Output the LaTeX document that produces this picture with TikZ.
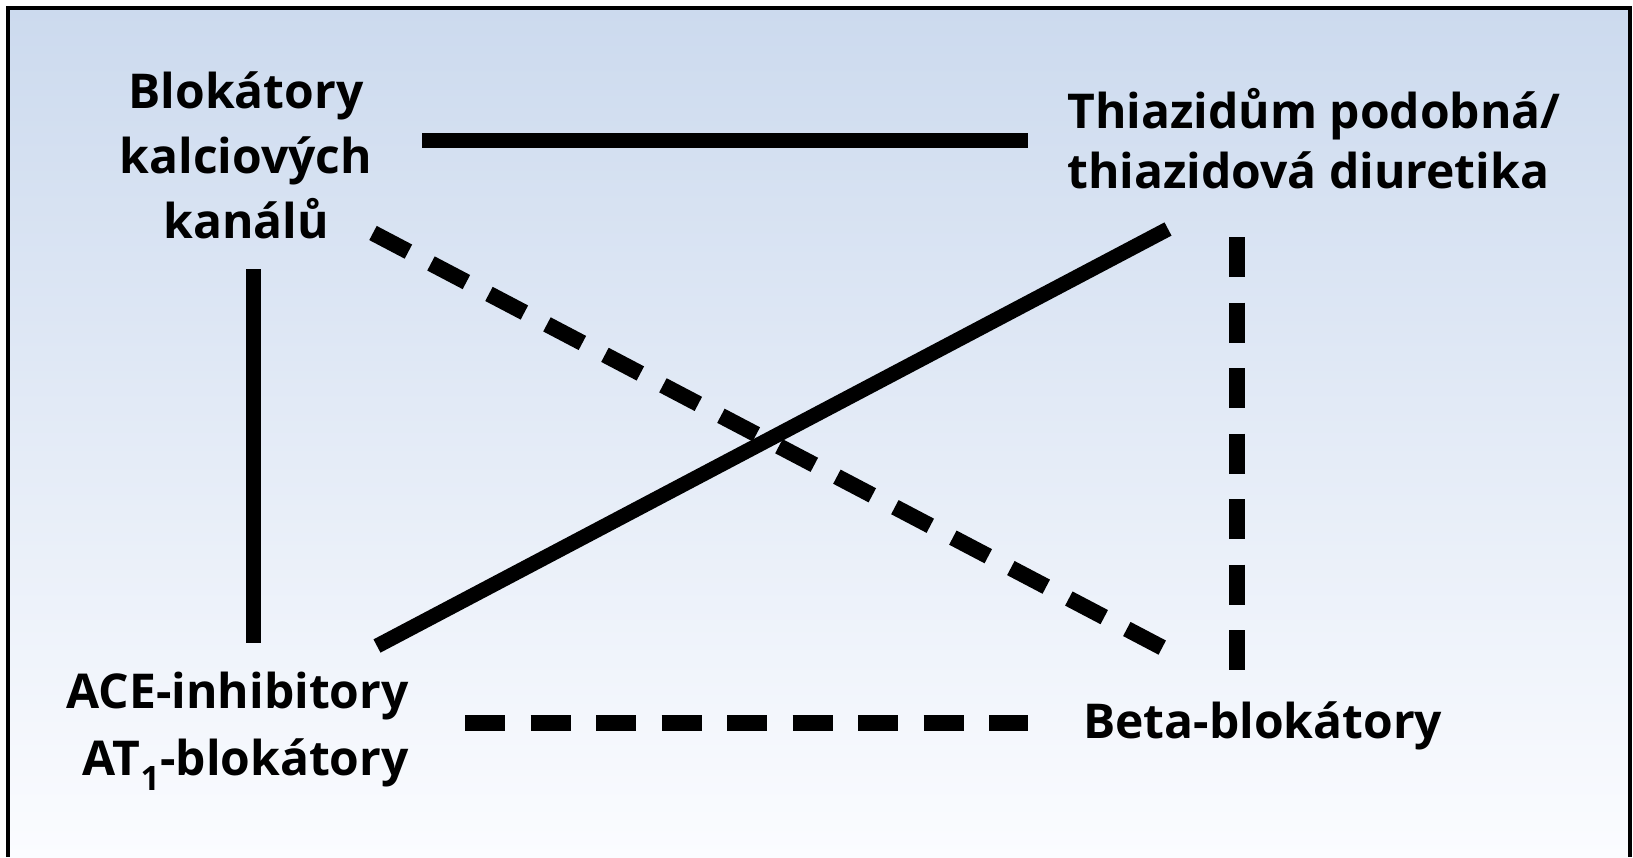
\documentclass[tikz,border=0pt]{standalone}
\usepackage{fontspec}
\setmainfont{Open Sans}
\definecolor{bgtop}{RGB}{204,218,238}
\definecolor{bgbot}{RGB}{251,252,255}
\tikzset{
  lbl/.style={inner sep=0pt, text=black, font=\bfseries\fontsize{48}{#1}\selectfont},
  solidlink/.style={line width=15pt, line cap=butt},
  dashlink/.style={line width=16pt, line cap=butt, dash pattern=on 40pt off 25.5pt},
}
\begin{document}
\begin{tikzpicture}[x=1pt,y=-1pt]
\useasboundingbox (0,0) rectangle (1633,857);
% background and frame
\shade[top color=bgtop, bottom color=bgbot] (8,8) rectangle (1630,857);
\draw[line width=4pt] (8,857) -- (8,8) -- (1630,8) -- (1630,857);
% concept nodes (base anchor = baseline of last line)
\node[lbl=65, align=center, anchor=base] (ccb) at (246,238) {Blokátory\\kalciových\\kanálů};
\node[lbl=60, align=left, anchor=base west] (thz) at (1067,188) {Thiazidům podobná/\\thiazidová diuretika};
\node[lbl=67, align=right, anchor=base east] (ace) at (409,775) {ACE-inhibitory\\AT\textsubscript{1}-blokátory};
\node[lbl=60, anchor=base west] (bb) at (1083,738) {Beta-blokátory};
% connector ends
\coordinate (ccb-e) at (422,140.5);
\coordinate (thz-w) at (1028,140.5);
\coordinate (ccb-s) at (253,269);
\coordinate (ace-n) at (253,643);
\coordinate (ace-ne) at (377,646);
\coordinate (thz-sw) at (1168,229);
\coordinate (ccb-se) at (373,233);
\coordinate (bb-nw) at (1163,648);
\coordinate (thz-s) at (1237,237);
\coordinate (bb-n) at (1237,670);
\coordinate (ace-e) at (465,723);
\coordinate (bb-w) at (1028,723);
% connectors
\draw[solidlink] (ccb-e) -- (thz-w);
\draw[solidlink] (ccb-s) -- (ace-n);
\draw[solidlink] (ace-ne) -- (thz-sw);
\draw[dashlink] (ccb-se) -- (bb-nw);
\draw[dashlink] (thz-s) -- (bb-n);
\draw[dashlink] (ace-e) -- (bb-w);
\end{tikzpicture}
\end{document}
